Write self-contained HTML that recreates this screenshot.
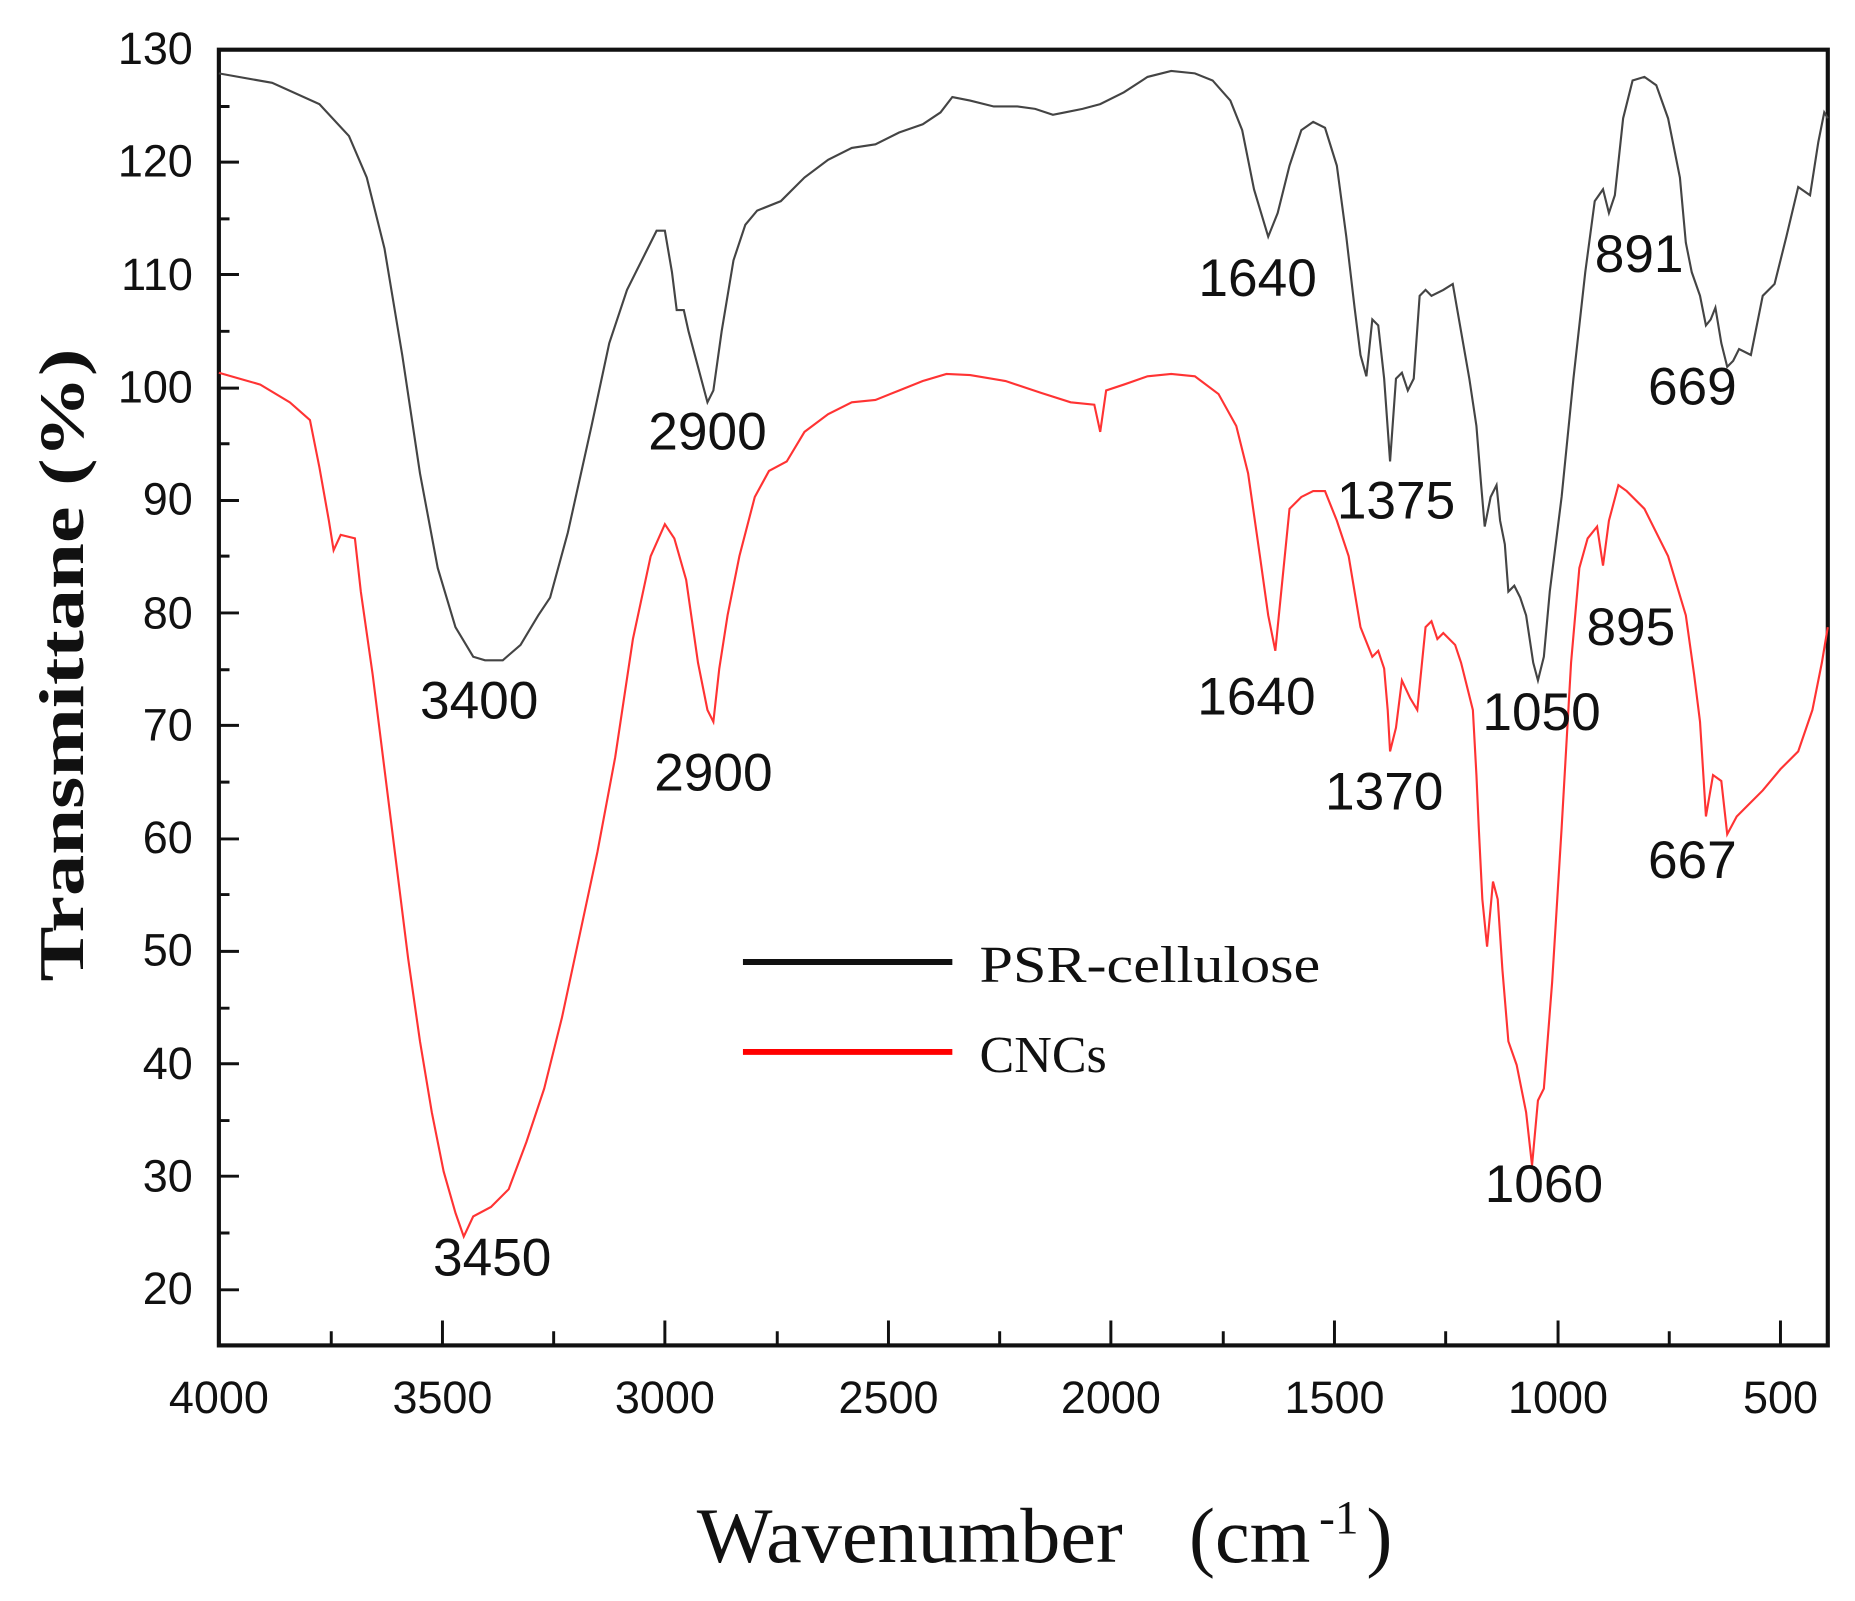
<!DOCTYPE html>
<html><head><meta charset="utf-8"><style>html,body{margin:0;padding:0;background:#fff}svg{display:block}</style></head><body>
<svg width="1855" height="1601" viewBox="0 0 1568 1353" preserveAspectRatio="none" xmlns="http://www.w3.org/2000/svg">
<rect width="1568" height="1353" fill="#fff"/>
<g font-family="Liberation Sans, Arial, sans-serif" font-size="38" fill="#111" text-anchor="end">
<text x="163" y="54">130</text><text x="163" y="149">120</text><text x="163" y="245">110</text><text x="163" y="340">100</text><text x="163" y="435">90</text><text x="163" y="531">80</text><text x="163" y="626">70</text><text x="163" y="721">60</text><text x="163" y="816">50</text><text x="163" y="912">40</text><text x="163" y="1007">30</text><text x="163" y="1102">20</text>
</g>
<g font-family="Liberation Sans, Arial, sans-serif" font-size="38" fill="#111" text-anchor="middle">
<text x="185" y="1194">4000</text><text x="374" y="1194">3500</text><text x="562" y="1194">3000</text><text x="751" y="1194">2500</text><text x="939" y="1194">2000</text><text x="1128" y="1194">1500</text><text x="1317" y="1194">1000</text><text x="1505" y="1194">500</text>
</g>
<g stroke="#111" stroke-width="2.5" fill="none">
<path d="M185,42V1090M185,137h17M185,232h17M185,328h17M185,423h17M185,518h17M185,613h17M185,709h17M185,804h17M185,899h17M185,994h17M185,1090h17"/>
<path d="M185,90h9M185,185h9M185,280h9M185,375h9M185,470h9M185,566h9M185,661h9M185,756h9M185,852h9M185,947h9M185,1042h9"/>
<path d="M374,1137v-21M562,1137v-21M751,1137v-21M939,1137v-21M1128,1137v-21M1317,1137v-21M1505,1137v-21"/>
<path d="M280,1137v-12M468,1137v-12M657,1137v-12M845,1137v-12M1034,1137v-12M1222,1137v-12M1411,1137v-12"/>
</g>
<rect x="185" y="42" width="1360" height="1095" fill="none" stroke="#111" stroke-width="3.5"/>
<polyline fill="none" stroke="#444" stroke-width="1.8" points="185,62 230,70 270,88 295,115 310,150 325,210 340,300 355,400 370,480 385,530 400,555 410,558 425,558 440,545 455,520 465,505 480,450 500,360 515,290 530,245 545,215 555,195 562,195 568,230 572,262 578,262 582,280 590,310 598,340 603,330 610,280 620,220 630,190 640,178 660,170 680,150 700,135 720,125 740,122 760,112 780,105 795,95 805,82 820,85 840,90 860,90 875,92 890,97 900,95 915,92 930,88 950,78 970,65 990,60 1010,62 1025,68 1040,85 1050,110 1060,160 1072,200 1080,180 1090,140 1100,110 1110,103 1120,108 1130,140 1138,200 1145,260 1150,300 1155,318 1160,270 1165,275 1170,320 1175,390 1180,320 1185,315 1190,330 1195,320 1200,250 1205,245 1210,250 1220,245 1228,240 1235,280 1242,320 1248,360 1252,410 1255,445 1260,420 1265,410 1268,440 1272,460 1275,500 1280,495 1285,505 1290,520 1296,560 1300,575 1305,555 1310,500 1320,420 1330,320 1340,230 1348,170 1355,160 1360,180 1365,165 1372,100 1380,68 1390,65 1400,72 1410,100 1420,150 1425,205 1430,230 1437,250 1442,275 1446,270 1450,260 1455,290 1460,310 1465,305 1470,295 1480,300 1490,250 1500,240 1510,200 1520,158 1530,165 1537,120 1542,95 1545,100"/>
<polyline fill="none" stroke="#f33" stroke-width="1.8" points="185,315 220,325 245,340 262,355 270,395 278,440 282,465 288,452 300,455 305,500 315,570 325,650 335,730 345,810 355,880 365,940 375,990 385,1025 392,1045 400,1028 415,1020 430,1005 445,965 460,920 475,860 490,790 505,720 520,640 535,540 550,470 562,443 570,455 580,490 590,560 598,600 603,610 608,565 615,520 625,470 638,420 650,398 665,390 680,365 700,350 720,340 740,338 760,330 780,322 800,316 820,317 850,322 880,332 905,340 925,342 930,365 935,330 950,325 970,318 990,316 1010,318 1030,333 1045,360 1055,400 1065,470 1072,520 1078,550 1083,500 1090,430 1100,420 1110,415 1120,415 1130,440 1140,470 1150,530 1160,555 1165,550 1170,565 1173,600 1175,635 1180,615 1185,575 1192,590 1198,600 1205,530 1210,525 1215,540 1220,535 1230,545 1235,560 1240,580 1245,600 1248,655 1250,700 1253,760 1257,800 1262,745 1266,760 1270,820 1275,880 1282,900 1290,940 1295,985 1300,930 1305,920 1312,830 1320,700 1328,560 1335,480 1342,455 1350,445 1355,478 1360,440 1368,410 1375,415 1390,430 1410,470 1425,520 1432,570 1437,610 1442,690 1448,655 1455,660 1460,705 1468,690 1478,680 1490,668 1505,650 1520,635 1532,600 1540,560 1545,530"/>
<g font-family="Liberation Sans, Arial, sans-serif" font-size="45" fill="#111">
<text x="355" y="607">3400</text><text x="548" y="380">2900</text><text x="1013" y="250">1640</text><text x="1348" y="230">891</text><text x="1393" y="342">669</text><text x="1130" y="438">1375</text><text x="366" y="1078">3450</text><text x="553" y="668">2900</text><text x="1012" y="604">1640</text><text x="1120" y="684">1370</text><text x="1253" y="617">1050</text><text x="1341" y="545">895</text><text x="1393" y="742">667</text><text x="1255" y="1016">1060</text>
</g>
<line x1="628" y1="813" x2="805" y2="813" stroke="#111" stroke-width="5"/>
<line x1="628" y1="889" x2="805" y2="889" stroke="#f00" stroke-width="5"/>
<g font-family="Liberation Serif, Times New Roman, serif" font-size="44" fill="#111">
<text x="828" y="830" textLength="288" lengthAdjust="spacingAndGlyphs">PSR-cellulose</text>
<text x="828" y="906">CNCs</text>
</g>
<text transform="translate(70,562) rotate(-90)" text-anchor="middle" font-family="Liberation Serif, Times New Roman, serif" font-weight="bold" font-size="54" fill="#111" textLength="535" lengthAdjust="spacingAndGlyphs">Transmittane (%)</text>
<g font-family="Liberation Serif, Times New Roman, serif" font-size="66" fill="#111">
<text x="589" y="1320" textLength="360" lengthAdjust="spacingAndGlyphs">Wavenumber</text>
<text x="1005" y="1320">(cm</text>
<text x="1115" y="1296" font-size="40">-1</text>
<text x="1155" y="1320">)</text>
</g>
</svg>
</body></html>
